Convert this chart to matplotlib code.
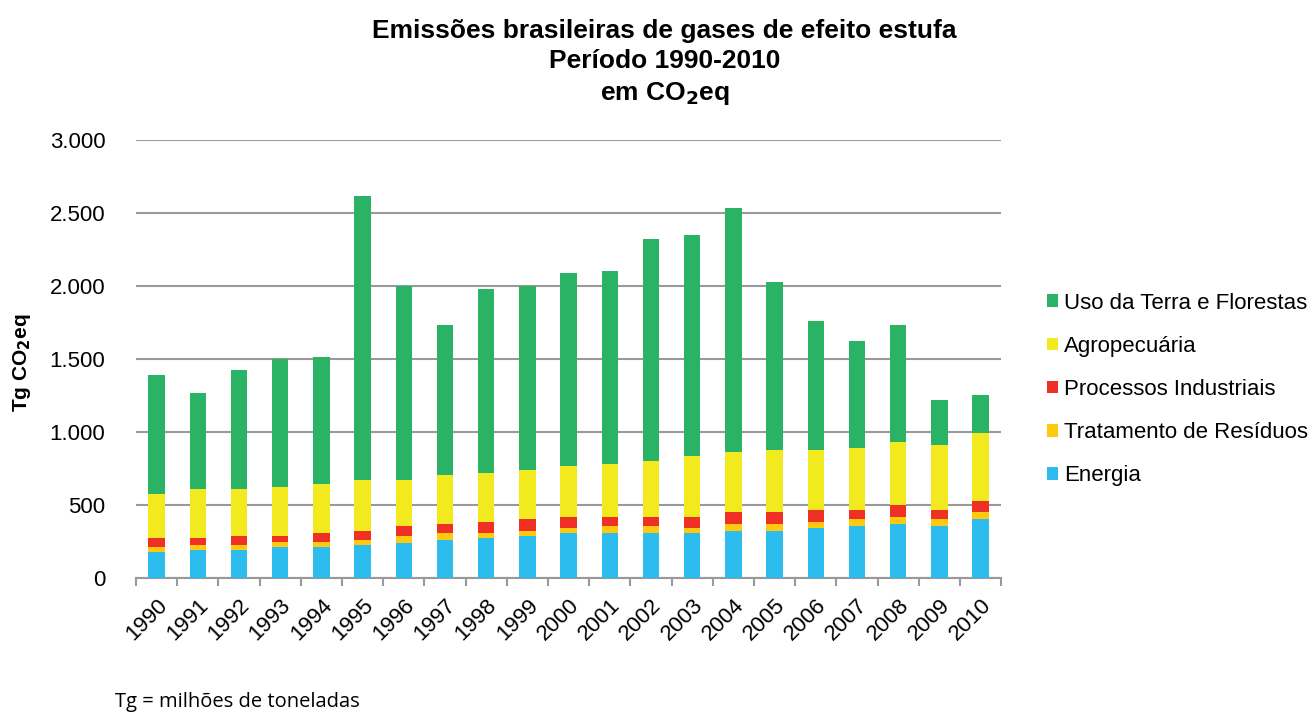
import numpy as np
import matplotlib
matplotlib.use("Agg")
import matplotlib.pyplot as plt
from matplotlib.ticker import FuncFormatter, FixedLocator

plt.rcParams["font.family"] = ["Liberation Sans", "DejaVu Sans"]

years = [str(y) for y in range(1990, 2011)]
energia = [180, 196, 196, 215, 215, 229, 243, 259, 276, 292, 308,
           308, 308, 308, 325, 325, 341, 355, 371, 355, 404]
residuos = [33, 33, 33, 30, 30, 33, 49, 49, 32, 33, 33,
            49, 49, 33, 49, 49, 47, 49, 47, 49, 47]
industriais = [65, 49, 63, 47, 63, 63, 63, 63, 80, 79, 77,
               61, 61, 77, 77, 77, 79, 63, 82, 63, 79]
agro = [299, 334, 320, 334, 334, 350, 320, 337, 336, 336, 353,
        367, 386, 416, 416, 430, 414, 428, 430, 446, 463]
uso_terra = [816, 658, 813, 876, 876, 1941, 1323, 1026, 1256, 1260, 1318,
             1319, 1519, 1518, 1669, 1146, 882, 732, 804, 310, 261]

series = [
    ("Energia", energia, "#2CBDEE"),
    ("Tratamento de Resíduos", residuos, "#FFC90E"),
    ("Processos Industriais", industriais, "#EE3124"),
    ("Agropecuária", agro, "#F2EA1F"),
    ("Uso da Terra e Florestas", uso_terra, "#2BB365"),
]

fig = plt.figure(figsize=(13.11, 7.12), dpi=100)
ax = fig.add_axes([0.1037, 0.1878, 0.66, 0.6156])

x = np.arange(len(years))
bottom = np.zeros(len(years))
handles = []
for name, vals, col in series:
    b = ax.bar(x, vals, 0.4, bottom=bottom, color=col, label=name, zorder=3)
    handles.append(b)
    bottom += np.array(vals)

ax.set_xlim(-0.5, len(years) - 0.5)
ax.set_ylim(0, 3000)
ax.set_yticks(np.arange(0, 3001, 500))
ax.yaxis.set_major_formatter(FuncFormatter(lambda v, p: f"{int(v):,}".replace(",", ".")))
ax.grid(axis="y", color="#999999", lw=1.5, zorder=0)
for s in ["top", "right", "left"]:
    ax.spines[s].set_visible(False)
ax.spines["bottom"].set_color("#999999")
ax.spines["bottom"].set_linewidth(1.5)
ax.tick_params(axis="y", length=0, labelsize=16, pad=22)

ax.set_xticks(x)
ax.set_xticklabels(years, rotation=45, ha="right", rotation_mode="anchor", fontsize=16)
ax.tick_params(axis="x", which="major", length=0, pad=12)
ax.xaxis.set_minor_locator(FixedLocator(np.arange(-0.5, len(years), 1.0)))
ax.tick_params(axis="x", which="minor", length=6, width=1.5, color="#999999")

fig.text(0.017, 0.49, "Tg CO$_\\mathbf{2}$eq", rotation=90, ha="center", va="center",
         fontsize=15, fontweight="bold")

title_kw = dict(ha="center", va="center", fontsize=19, fontweight="bold")
fig.text(0.507, 0.957, "Emissões brasileiras de gases de efeito estufa", **title_kw)
fig.text(0.507, 0.914, "Período 1990-2010", **title_kw)
fig.text(0.507, 0.869, "em CO$_\\mathbf{2}$eq", **title_kw)

fig.legend(handles[::-1], [s[0] for s in series][::-1], loc="center left",
           bbox_to_anchor=(0.783, 0.453), frameon=False, fontsize=16,
           handlelength=0.5, handleheight=0.5, handletextpad=0.3, labelspacing=1.0)

fig.text(0.088, 0.014, "Tg = milhões de toneladas", fontsize=14.5,
         family=["Open Sans", "DejaVu Sans"], ha="left", va="center")

fig.savefig("out.png", dpi=100)
